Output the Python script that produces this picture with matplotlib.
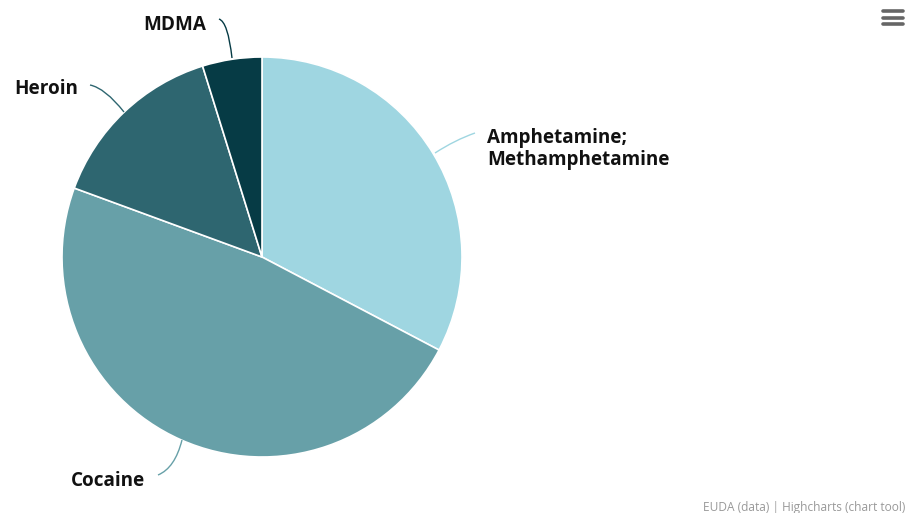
import matplotlib
matplotlib.use("Agg")
import matplotlib.pyplot as plt
from matplotlib.path import Path
from matplotlib.patches import PathPatch

plt.rcParams['font.family'] = ['Open Sans', 'DejaVu Sans']

categories = ["Amphetamine;\nMethamphetamine", "Cocaine", "Heroin", "MDMA"]
values = [32.7, 47.9, 14.6, 4.8]
colors = ["#9fd6e1", "#67a0a8", "#2e6670", "#063b45"]

W, H = 907, 513
fig = plt.figure(figsize=(W / 100, H / 100), dpi=100)
ax = fig.add_axes([0, 0, 1, 1])
ax.set_xlim(0, W)
ax.set_ylim(0, H)
ax.set_aspect('equal')
ax.axis('off')

cx, cy, r = 262, H - 257, 200
ax.pie(values, colors=colors, startangle=90, counterclock=False,
       center=(cx, cy), radius=r, frame=True,
       wedgeprops=dict(edgecolor='white', linewidth=1.2))
ax.set_xlim(0, W)
ax.set_ylim(0, H)
ax.axis('off')

def Y(y):
    return H - y

# connectors (start, control, end) in pixel coords (y down)
connectors = [
    ((435, 153), (455, 140), (475, 133)),
    ((182, 440), (175, 468), (158, 475)),
    ((124, 112), (105, 88), (90, 85)),
    ((232, 58), (228, 22), (219, 19)),
]
for (p0, p1, p2), c in zip(connectors, colors):
    path = Path([(p0[0], Y(p0[1])), (p1[0], Y(p1[1])), (p2[0], Y(p2[1]))],
                [Path.MOVETO, Path.CURVE3, Path.CURVE3])
    ax.add_patch(PathPatch(path, facecolor='none', edgecolor=c, lw=1.0))

label_pos = [
    (487, 149, 'left'),
    (145, 481, 'right'),
    (78, 89, 'right'),
    (206, 25, 'right'),
]
for cat, (x, y, ha) in zip(categories, label_pos):
    ax.text(x, Y(y), cat, ha=ha, va='center', fontsize=13.6, fontweight='bold',
            color='#111111', linespacing=1.1)

ax.text(905, Y(507), "EUDA (data) | Highcharts (chart tool)", ha='right',
        va='center', fontsize=8.6, color='#999999')

for yy in (11, 17.5, 24):
    ax.plot([883, 903], [Y(yy), Y(yy)], color='#666666', lw=2.6,
            solid_capstyle='round')

fig.savefig("out.png", dpi=100, facecolor='white')
